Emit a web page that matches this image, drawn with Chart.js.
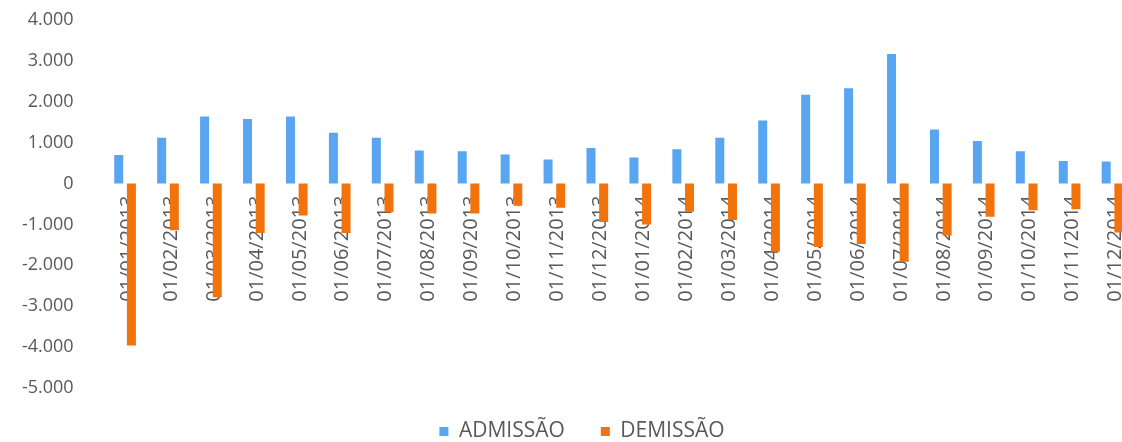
<!DOCTYPE html>
<html>
<head>
<meta charset="utf-8">
<script src="https://cdn.jsdelivr.net/npm/chart.js@4"></script>
<style>
  html, body { margin: 0; padding: 0; background: #fff; overflow: hidden; }
</style>
</head>
<body>
<canvas id="myChart" width="1134" height="442"></canvas>
<script>
// MONTHS AND SERIES
const meses = ['01/01/2013', '01/02/2013', '01/03/2013', '01/04/2013', '01/05/2013', '01/06/2013',
  '01/07/2013', '01/08/2013', '01/09/2013', '01/10/2013', '01/11/2013', '01/12/2013',
  '01/01/2014', '01/02/2014', '01/03/2014', '01/04/2014', '01/05/2014', '01/06/2014',
  '01/07/2014', '01/08/2014', '01/09/2014', '01/10/2014', '01/11/2014', '01/12/2014'];
const admissao = [700, 1120, 1640, 1580, 1640, 1240, 1120, 810, 790, 710, 590, 870,
  640, 840, 1120, 1540, 2170, 2330, 3170, 1320, 1040, 790, 550, 540];
const demissao = [-3960, -1140, -2780, -1210, -780, -1210, -700, -730, -730, -540, -590, -940,
  -1000, -690, -890, -1670, -1550, -1480, -1910, -1270, -810, -650, -630, -1200];
const yTicks = [-5000, 4000, 1000]; // min, max, step

const cinza = '#595959';

// 1000 -> "1.000"
function fmt(v) {
  return String(v).replace(/\B(?=(\d{3})+(?!\d))/g, '.');
}

// nudge the legend a bit right of the canvas centre and slightly up
const legendShift = {
  id: 'legendShift',
  afterLayout(chart) {
    const lg = chart.legend;
    if (lg) {
      lg.left += 15; lg.right += 15;
      lg.top -= 3; lg.bottom -= 3;
    }
  }
};

const ctx = document.getElementById('myChart').getContext('2d');
const myChart = new Chart(ctx, {
  type: 'bar',
  data: {
    labels: meses,
    datasets: [{
      label: 'ADMISSÃO',
      data: admissao,
      backgroundColor: '#58A5F2',
      borderWidth: 0
    }, {
      label: 'DEMISSÃO',
      data: demissao,
      backgroundColor: '#F2720C',
      borderWidth: 0
    }]
  },
  plugins: [legendShift],
  options: {
    responsive: false,
    animation: false,
    categoryPercentage: 0.59,
    barPercentage: 0.71,
    layout: { padding: { top: 20, left: 0, right: 0, bottom: -13 } },
    plugins: {
      tooltip: { enabled: false },
      legend: {
        position: 'bottom',
        labels: {
          boxWidth: 9,
          boxHeight: 9,
          padding: 36,
          color: cinza,
          font: { family: 'Open Sans', size: 21 }
        }
      }
    },
    scales: {
      x: {
        position: { y: 0 },
        z: 1,
        grid: { display: false, drawTicks: false },
        border: { display: false },
        ticks: {
          autoSkip: false,
          minRotation: 90,
          maxRotation: 90,
          padding: 12,
          labelOffset: 3,
          color: cinza,
          font: { family: 'Open Sans', size: 20 }
        },
        // last category runs off the right edge, no extra room for labels
        afterFit: (scale) => {
          scale.paddingLeft = 0
          scale.paddingRight = 0
        }
      },
      y: {
        min: yTicks[0],
        max: yTicks[1],
        grid: { display: false, drawTicks: false },
        border: { display: false },
        ticks: {
          stepSize: yTicks[2],
          padding: 30,
          color: cinza,
          font: { family: 'Open Sans', size: 18 },
          callback: (v) => fmt(v)
        },
        afterFit: (scale) => {
          scale.width = 103.6
          scale.paddingTop = 0
          scale.paddingBottom = 0
        }
      }
    }
  }
});
</script>
</body>
</html>
